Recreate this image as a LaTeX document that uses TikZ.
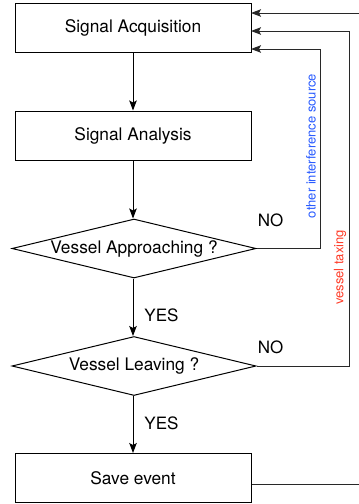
\documentclass[tikz,border=0pt]{standalone}
\usepackage{fontspec}
\setmainfont{TeX Gyre Heros}
\usetikzlibrary{shapes.geometric,arrows.meta}
\definecolor{noteblue}{RGB}{40,90,255}
\definecolor{notered}{RGB}{255,60,40}
\definecolor{linegray}{RGB}{40,40,40}
\begin{document}
\begin{tikzpicture}[x=1pt,y=-1pt,
  procbox/.style={draw=black,line width=1pt,rectangle,minimum width=236pt,minimum height=49pt,inner sep=0pt,font=\fontsize{17.3}{20}\selectfont},
  decision/.style={draw=black,line width=1pt,diamond,aspect=4.14,minimum width=244pt,minimum height=59pt,inner sep=0pt,font=\fontsize{17.3}{20}\selectfont},
  flow/.style={draw=black,line width=1pt,-{Stealth[length=10pt,width=7.5pt,inset=2pt]}},
  loop/.style={draw=linegray,line width=1pt,-{Stealth[length=10pt,width=7.5pt,inset=2pt]}},
  plain/.style={draw=linegray,line width=1pt},
  answer/.style={font=\fontsize{17}{20}\selectfont,inner sep=0pt},
  note/.style={font=\fontsize{13}{15}\selectfont,inner sep=0pt,rotate=90}]
\useasboundingbox (0,0) rectangle (359,504);

% process steps and decisions
\node[procbox] (acq) at (133,27.5) {Signal Acquisition};
\node[procbox] (ana) at (133,135.5) {Signal Analysis};
\node[decision] (app) at (134,248.5) {Vessel Approaching ?};
\node[decision] (lea) at (134,366) {Vessel Leaving ?};
\node[procbox] (save) at (133,478) {Save event};

% main flow
\draw[flow] (acq.south -| 133,0) -- (ana.north -| 133,0);
\draw[flow] (ana.south -| 133,0) -- (app.north -| 133,0);
\draw[flow] (app.south -| 133,0) -- (lea.north -| 133,0);
\draw[flow] (lea.south -| 133,0) -- (save.north -| 133,0);

\node[answer] (yes1) at (161.5,315) {YES};
\node[answer] (yes2) at (161.5,423) {YES};
\node[answer] (no1) at (270.5,220) {NO};
\node[answer] (no2) at (270.5,347) {NO};

% feedback paths into the acquisition step
\coordinate (inA) at (251,49);
\coordinate (inB) at (251,31);
\coordinate (inC) at (251,13);
\coordinate (edgeTop) at (359,13);
\coordinate (edgeBot) at (359,484);

\draw[loop] (app.east) -- (320,248.5) -- (320,49) -- (inA);
\draw[loop] (lea.east) -- (349,366) -- (349,31) -- (inB);
\draw[loop] (edgeTop) -- (inC);
\draw[plain] (save.east |- 0,484) -- (edgeBot);

\node[note,text=noteblue] (lblother) at (311,146) {other interference source};
\node[note,text=notered] (lbltaxi) at (340,267.5) {vessel taxing};
\end{tikzpicture}
\end{document}
